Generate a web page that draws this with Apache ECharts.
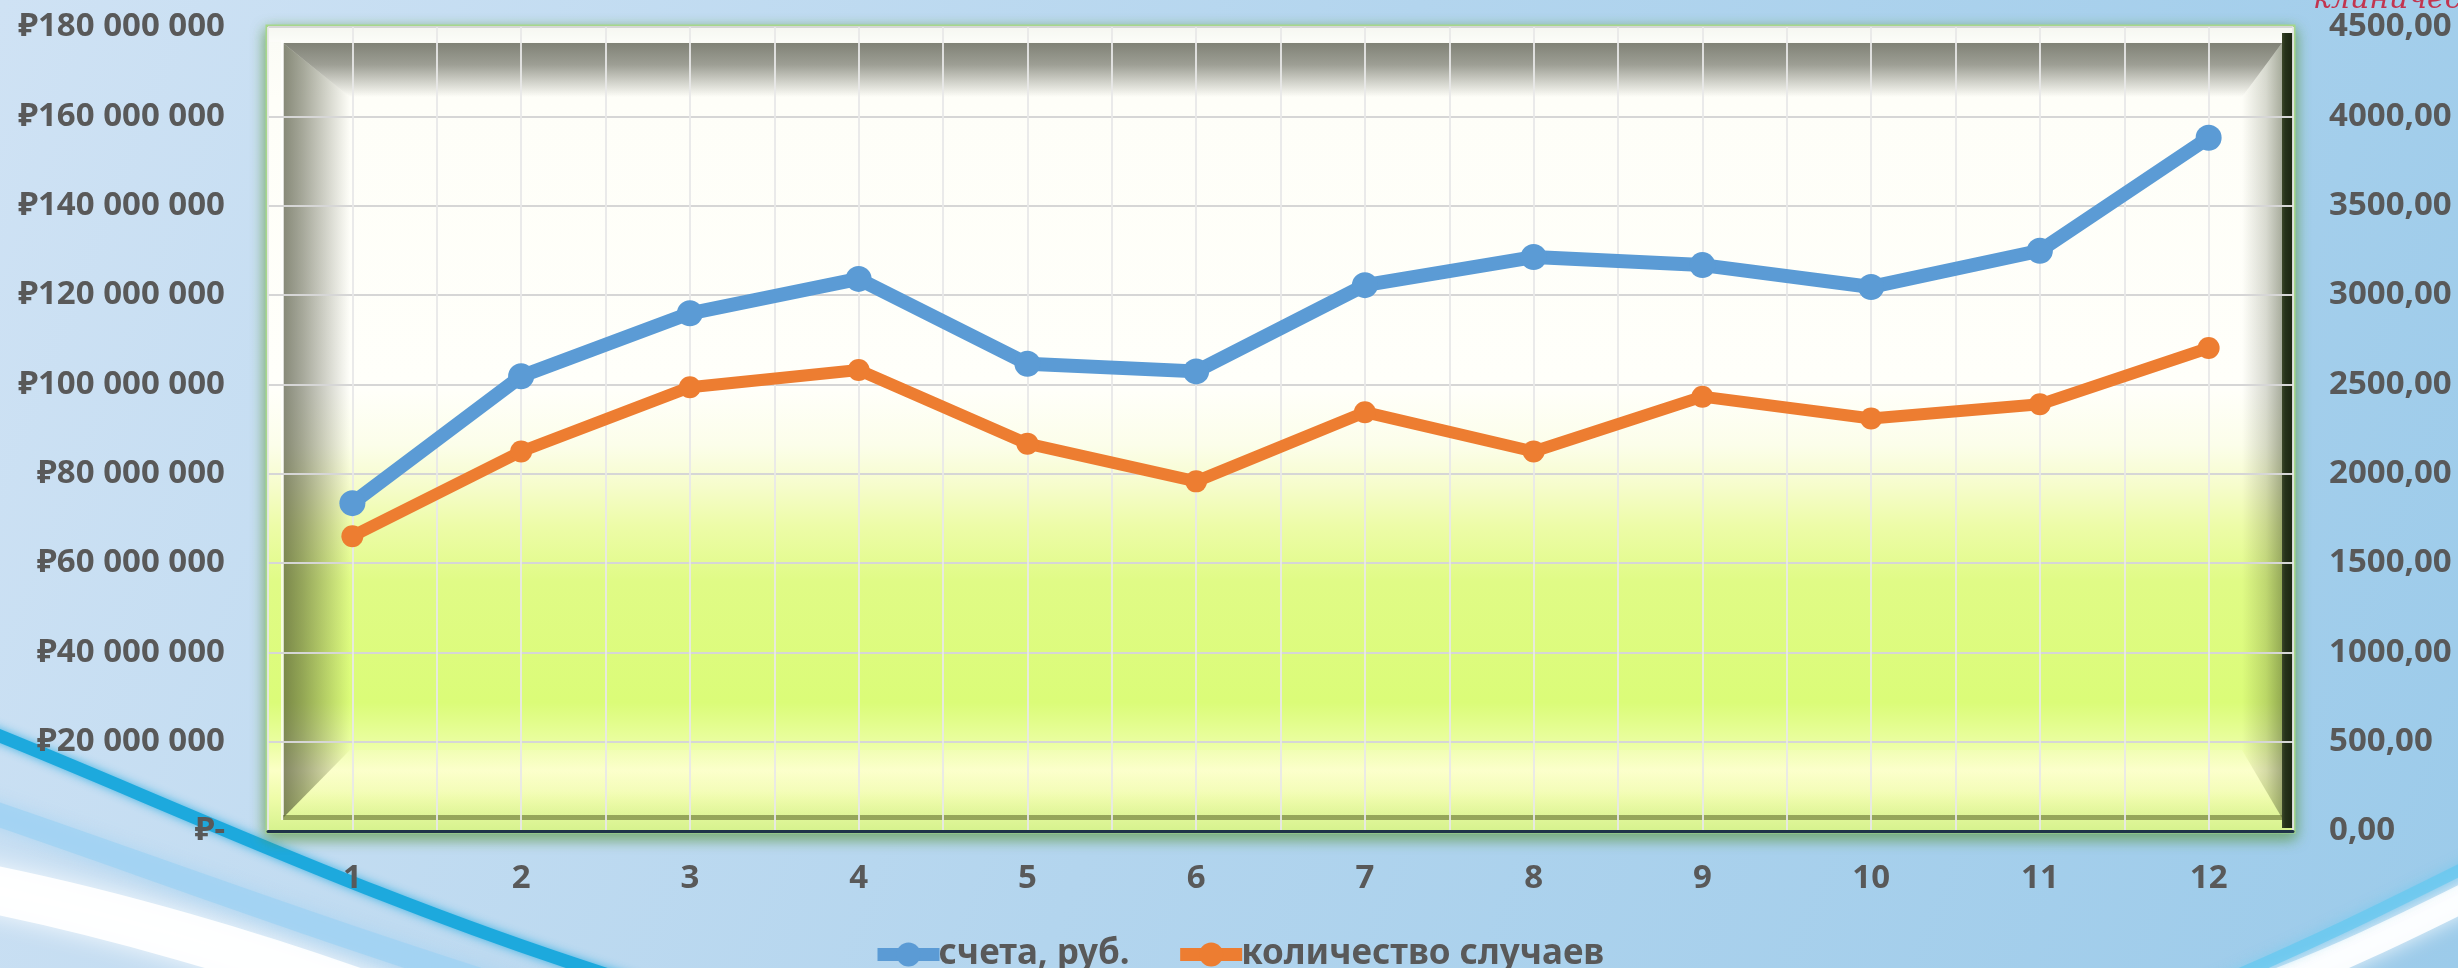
<!DOCTYPE html>
<html>
<head>
<meta charset="utf-8">
<script src="https://cdn.jsdelivr.net/npm/echarts@6/dist/echarts.min.js"></script>
<style>
html,body{margin:0;padding:0;background:#c4ddf1;}
#chart{width:2458px;height:968px;}
</style>
</head>
<body>
<div id="chart"></div>
<script>
// ---- data ----
const categories = ['1','2','3','4','5','6','7','8','9','10','11','12'];
const invoicesRub = [73400000, 101800000, 115900000, 123600000, 104600000, 102900000, 122200000, 128500000, 126700000, 121800000, 129900000, 155200000];
const caseCounts = [1650, 2124, 2484, 2580, 2168, 1957, 2344, 2124, 2431, 2309, 2388, 2703];
const seriesNames = ['счета, руб.', 'количество случаев'];
const cornerText = 'клиническая больница';

const FONT = '"Noto Sans", "DejaVu Sans", sans-serif';
const LABEL = {fontSize: 33, fontWeight: 'bold', color: '#595959', fontFamily: FONT};

const L = 268, R = 2293, T = 27, B = 831;

function lin(x1, y1, x2, y2, stops) {
  return new echarts.graphic.LinearGradient(x1, y1, x2, y2, stops.map(s => ({offset: s[0], color: s[1]})));
}

const chart = echarts.init(document.getElementById('chart'), null, {renderer: 'canvas'});

const graphics = [
  // page background
  {type: 'rect', silent: true, z: -100, shape: {x: 0, y: 0, width: 2458, height: 968},
   style: {fill: lin(0, 0, 1, 1, [[0, '#cfe2f4'], [0.5, '#b3d5ee'], [1, '#9ccbea']])}},
  // swooshes bottom-left
  {type: 'bezierCurve', silent: true, z: -95,
   shape: {x1: -30, y1: 885, cpx1: 100, cpy1: 910, cpx2: 260, cpy2: 955, x2: 420, y2: 1015},
   style: {stroke: 'rgba(255,255,255,0.92)', lineWidth: 48, fill: null, shadowBlur: 25, shadowColor: 'rgba(255,255,255,0.9)'}},
  {type: 'bezierCurve', silent: true, z: -94,
   shape: {x1: -30, y1: 805, cpx1: 120, cpy1: 855, cpx2: 330, cpy2: 935, x2: 560, y2: 1005},
   style: {stroke: 'rgba(160,210,242,0.8)', lineWidth: 24, fill: null, shadowBlur: 15, shadowColor: 'rgba(160,210,242,0.8)'}},
  {type: 'bezierCurve', silent: true, z: -93,
   shape: {x1: -20, y1: 728, cpx1: 150, cpy1: 795, cpx2: 380, cpy2: 905, x2: 640, y2: 985},
   style: {stroke: '#1da9dd', lineWidth: 13, fill: null, shadowBlur: 10, shadowColor: 'rgba(30,170,225,0.8)'}},
  // swooshes bottom-right
  {type: 'bezierCurve', silent: true, z: -95,
   shape: {x1: 2230, y1: 1000, cpx1: 2330, cpy1: 965, cpx2: 2410, cpy2: 925, x2: 2490, y2: 885},
   style: {stroke: 'rgba(255,255,255,0.9)', lineWidth: 28, fill: null, shadowBlur: 20, shadowColor: 'rgba(255,255,255,0.9)'}},
  {type: 'bezierCurve', silent: true, z: -94,
   shape: {x1: 2190, y1: 995, cpx1: 2300, cpy1: 950, cpx2: 2390, cpy2: 905, x2: 2490, y2: 855},
   style: {stroke: 'rgba(100,200,240,0.7)', lineWidth: 12, fill: null, shadowBlur: 12, shadowColor: 'rgba(100,200,240,0.8)'}},
  // corner text
  {type: 'text', silent: true, z: -90, x: 2313, y: 15,
   style: {text: cornerText, fill: '#c2354f', fontSize: 30, fontStyle: 'italic', fontFamily: '"DejaVu Serif", "Liberation Serif", serif', verticalAlign: 'bottom', align: 'left'}},
  // plot outer glow
  {type: 'rect', silent: true, z: -80, shape: {x: L, y: T, width: R - L, height: B - T},
   style: {fill: '#f2f6ea', stroke: '#a6d78b', lineWidth: 5, shadowBlur: 14, shadowOffsetY: 5, shadowColor: 'rgba(90,150,60,0.75)'}},
  // plot background
  {type: 'rect', silent: true, z: -79, shape: {x: L, y: T, width: R - L, height: B - T},
   style: {fill: lin(0, 0, 0, 1, [
     [0, '#f1f3ea'], [0.02, '#fbfcf6'], [0.09, '#fefef8'], [0.45, '#fffffa'], [0.52, '#fcfeea'],
     [0.57, '#f6fccc'], [0.62, '#edfca8'], [0.69, '#e0fb86'], [0.84, '#dbfc78'],
     [0.89, '#eafea0'], [0.925, '#fbffc6'], [0.96, '#eefca8'], [1, '#d6f28e']])}},
  // top outer light strip
  {type: 'rect', silent: true, z: -75, shape: {x: L, y: T, width: R - L, height: 15},
   style: {fill: 'rgba(255,255,255,0.35)'}},
  // top bevel
  {type: 'polygon', silent: true, z: -70, shape: {points: [[283, 43], [2282, 43], [2242, 97], [350, 97]]},
   style: {fill: lin(0, 0, 0, 1, [[0, 'rgba(70,72,58,0.68)'], [0.4, 'rgba(70,72,58,0.52)'], [1, 'rgba(70,72,58,0)']])}},
  // left bevel
  {type: 'polygon', silent: true, z: -70, shape: {points: [[283, 43], [350, 97], [350, 750], [283, 818]]},
   style: {fill: lin(0, 0, 1, 0, [[0, 'rgba(60,64,40,0.62)'], [0.3, 'rgba(60,64,40,0.45)'], [1, 'rgba(60,64,40,0)']])}},
  // bottom bevel (light)
  {type: 'polygon', silent: true, z: -70, shape: {points: [[283, 818], [350, 750], [2242, 750], [2282, 818]]},
   style: {fill: lin(0, 0, 0, 1, [[0, 'rgba(255,255,235,0.15)'], [0.6, 'rgba(255,255,220,0.2)'], [1, 'rgba(200,230,120,0.1)']])}},
  // right bevel
  {type: 'polygon', silent: true, z: -70, shape: {points: [[2282, 43], [2282, 818], [2242, 750], [2242, 97]]},
   style: {fill: lin(0, 0, 1, 0, [[0, 'rgba(40,50,20,0)'], [0.6, 'rgba(40,50,20,0.18)'], [1, 'rgba(40,50,20,0.4)']])}},
  // right dark strip
  {type: 'rect', silent: true, z: -69, shape: {x: 2282, y: 33, width: 11, height: 795},
   style: {fill: lin(1, 0, 0, 0, [[0, '#1b2410'], [0.7, '#26321a'], [1, '#3a4628']])}},
  // left light inner line
  {type: 'rect', silent: true, z: -69, shape: {x: 281, y: 40, width: 3, height: 780},
   style: {fill: 'rgba(255,255,255,0.7)'}},
  // bottom dark inner line
  {type: 'rect', silent: true, z: -69, shape: {x: 283, y: 815, width: 1999, height: 5},
   style: {fill: 'rgba(90,100,40,0.55)'}}
];

const option = {
  animation: false,
  graphic: graphics,
  grid: {left: L, right: 2458 - R, top: T, bottom: 968 - B, containLabel: false},
  legend: {
    data: seriesNames,
    left: 866, top: 932,
    itemWidth: 62, itemHeight: 30, itemGap: 44,
    lineStyle: {width: 13},
    textStyle: Object.assign({}, LABEL, {fontSize: 35, padding: [0, 0, 0, -6]})
  },
  xAxis: [
    {type: 'category', data: categories, boundaryGap: true,
     axisLine: {show: true, lineStyle: {color: '#1f3348', width: 3}},
     axisTick: {show: false},
     axisLabel: Object.assign({margin: 31}, LABEL),
     splitLine: {show: false}},
    {type: 'value', min: 0.5, max: 12.5, interval: 0.5, position: 'top',
     axisLine: {show: false}, axisTick: {show: false}, axisLabel: {show: false},
     splitLine: {show: true, lineStyle: {color: 'rgba(232,232,232,0.9)', width: 2}}}
  ],
  yAxis: [
    {type: 'value', min: 0, max: 180000000, interval: 20000000,
     axisLine: {show: false}, axisTick: {show: false},
     axisLabel: Object.assign({margin: 43, formatter: v => v === 0 ? '₽-' : '₽' + String(v).replace(/\B(?=(\d{3})+(?!\d))/g, ' ')}, LABEL),
     splitLine: {show: true, lineStyle: {color: '#d6d6d6', width: 2}}},
    {type: 'value', min: 0, max: 4500, interval: 500, position: 'right',
     axisLine: {show: false}, axisTick: {show: false},
     axisLabel: Object.assign({margin: 36, formatter: v => v.toFixed(2).replace('.', ',')}, LABEL),
     splitLine: {show: false}}
  ],
  series: [
    {name: seriesNames[0], type: 'line', xAxisIndex: 0, yAxisIndex: 0, data: invoicesRub,
     symbol: 'circle', symbolSize: 26, lineStyle: {color: '#5b9bd5', width: 14},
     itemStyle: {color: '#5b9bd5'}, z: 3},
    {name: seriesNames[1], type: 'line', xAxisIndex: 0, yAxisIndex: 1, data: caseCounts,
     symbol: 'circle', symbolSize: 22, lineStyle: {color: '#ed7d31', width: 12},
     itemStyle: {color: '#ed7d31'}, z: 3}
  ]
};
chart.setOption(option);
</script>
</body>
</html>
